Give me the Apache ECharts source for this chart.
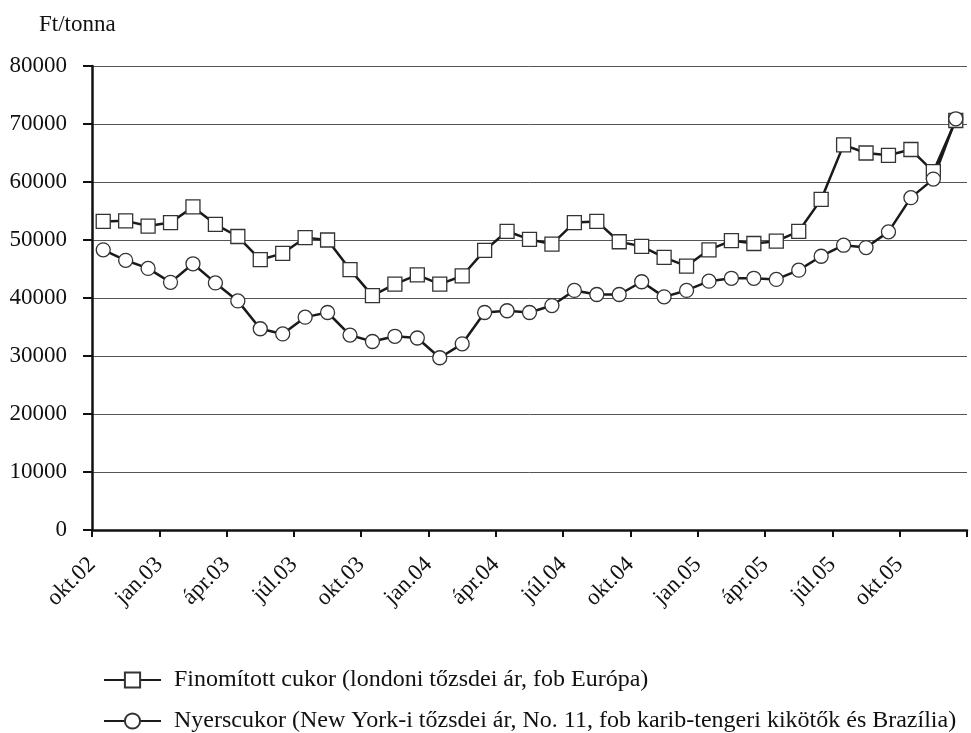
<!DOCTYPE html>
<html>
<head>
<meta charset="utf-8">
<script src="https://cdn.jsdelivr.net/npm/echarts@6/dist/echarts.min.js"></script>
<style>
  html, body { margin: 0; padding: 0; background: #fff; }
  #chart { width: 971px; height: 733px; }
</style>
</head>
<body>
<div id="chart"></div>
<script>
// monthly categories, okt.02 .. dec.05
var months = ['okt.02', 'nov.02', 'dec.02',
  'jan.03', 'febr.03', 'márc.03', 'ápr.03', 'máj.03', 'jún.03', 'júl.03', 'aug.03', 'szept.03', 'okt.03', 'nov.03', 'dec.03',
  'jan.04', 'febr.04', 'márc.04', 'ápr.04', 'máj.04', 'jún.04', 'júl.04', 'aug.04', 'szept.04', 'okt.04', 'nov.04', 'dec.04',
  'jan.05', 'febr.05', 'márc.05', 'ápr.05', 'máj.05', 'jún.05', 'júl.05', 'aug.05', 'szept.05', 'okt.05', 'nov.05', 'dec.05']

var finomitott = [53200, 53300, 52400, 53000, 55700, 52700, 50600, 46600, 47700, 50400, 50000, 44900, 40400,
  42400, 44000, 42400, 43800, 48200, 51500, 50100, 49300, 53000, 53200, 49700, 48900, 47000,
  45500, 48300, 49900, 49400, 49800, 51500, 57000, 66400, 65000, 64600, 65600, 61800, 70600]

var nyers = [48300, 46500, 45100, 42700, 45900, 42600, 39500, 34700, 33800, 36700, 37500, 33600, 32500,
  33400, 33100, 29700, 32100, 37500, 37800, 37500, 38700, 41300, 40600, 40600, 42800, 40200,
  41300, 42900, 43400, 43400, 43200, 44800, 47200, 49100, 48700, 51400, 57300, 60500, 70900]

var seriesNames = ['Finomított cukor (londoni tőzsdei ár, fob Európa)',
  'Nyerscukor (New York-i tőzsdei ár, No. 11, fob karib-tengeri kikötők és Brazília)']

var font = 'Liberation Serif'
var chart = echarts.init(document.getElementById('chart'))

function lineSeries(name, symbol, data) {
  return {
    name: name,
    type: 'line',
    xAxisIndex: 0,
    data: data,
    symbol: symbol,
    symbolSize: 14,
    lineStyle: { color: '#1a1a1a', width: 2.5 },
    itemStyle: { color: '#fff', borderColor: '#333', borderWidth: 1.3 },
    emphasis: { disabled: true },
    animation: false
  }
}

chart.setOption({
  backgroundColor: '#fff',
  textStyle: { fontFamily: font },
  title: {
    text: 'Ft/tonna',
    left: 34,
    top: 8,
    textStyle: { fontFamily: font, fontSize: 23, fontWeight: 'normal', color: '#111' }
  },
  grid: { left: 92, right: 4, top: 66, bottom: 203 },
  legend: {
    orient: 'vertical',
    left: 103,
    top: 668,
    padding: 0,
    itemWidth: 57,
    itemHeight: 19,
    itemGap: 17,
    data: seriesNames,
    textStyle: { fontFamily: font, fontSize: 24, color: '#111', padding: [0, 0, 0, 8] }
  },
  xAxis: [
    {
      type: 'category',
      data: months,
      boundaryGap: true,
      show: false
    },
    {
      // boundaries between months, used only for ticks and labels
      type: 'category',
      data: months.concat(['']),
      boundaryGap: false,
      position: 'bottom',
      axisLine: { lineStyle: { color: '#111', width: 2.5 } },
      axisTick: { interval: 2, length: 7, lineStyle: { color: '#111', width: 2 } },
      axisLabel: {
        interval: 2,
        rotate: 45,
        margin: 31,
        fontFamily: font,
        fontSize: 23,
        color: '#111'
      },
      splitLine: { show: false }
    }
  ],
  yAxis: {
    type: 'value',
    min: 0,
    max: 80000,
    interval: 10000,
    axisLine: { show: true, lineStyle: { color: '#111', width: 2.5 } },
    axisTick: { show: true, length: 9, lineStyle: { color: '#111', width: 2 } },
    axisLabel: {
      margin: 25,
      fontFamily: font,
      fontSize: 23,
      color: '#111',
      formatter: function (v) { return String(v) }
    },
    splitLine: { lineStyle: { color: '#555', width: 1 } }
  },
  series: [
    lineSeries(seriesNames[0], 'rect', finomitott),
    lineSeries(seriesNames[1], 'circle', nyers)
  ]
})
</script>
</body>
</html>
